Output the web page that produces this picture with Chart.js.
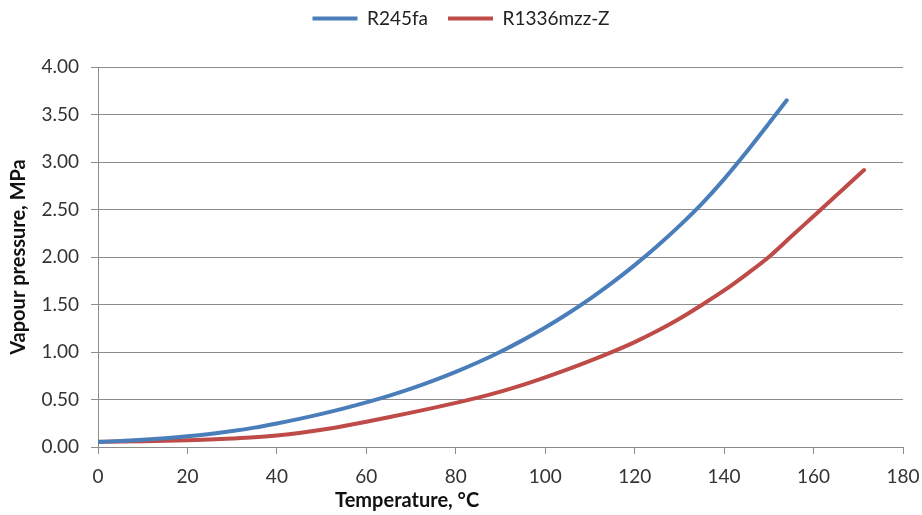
<!DOCTYPE html>
<html>
<head>
<meta charset="utf-8">
<title>Vapour pressure</title>
<script src="https://cdn.jsdelivr.net/npm/chart.js@4.4.1/dist/chart.umd.min.js"></script>
<style>
  html, body { margin: 0; padding: 0; background: #ffffff; }
  #wrap { width: 922px; height: 515px; }
</style>
</head>
<body>
<div id="wrap"><canvas id="chart" width="922" height="515"></canvas></div>
<script>
// Saturation curves, temperature in °C, pressure in MPa
const r245faTemps = [0, 5, 10, 15, 20, 25, 30, 35, 40, 45, 50, 55, 60, 65, 70, 75, 80, 85, 90, 95,
  100, 105, 110, 115, 120, 125, 130, 135, 140, 145, 150, 154];
const r245faPressure = [0.053, 0.064, 0.077, 0.093, 0.113, 0.138, 0.168, 0.204, 0.248, 0.296,
  0.349, 0.407, 0.470, 0.539, 0.615, 0.699, 0.791, 0.892, 1.003, 1.125,
  1.258, 1.403, 1.560, 1.730, 1.914, 2.113, 2.328, 2.560, 2.820, 3.105, 3.405, 3.650];

const r1336Temps = [0, 5, 10, 15, 20, 25, 30, 35, 40, 45, 50, 55, 60, 65, 70, 75, 80, 85, 90, 95,
  100, 105, 110, 115, 120, 125, 130, 135, 140, 145, 150, 155, 160, 165, 170, 171.3];
const r1336Pressure = [0.055, 0.057, 0.060, 0.065, 0.071, 0.079, 0.089, 0.102, 0.122, 0.148,
  0.182, 0.222, 0.266, 0.313, 0.362, 0.412, 0.464, 0.520, 0.583, 0.654,
  0.733, 0.817, 0.906, 1.001, 1.104, 1.220, 1.350, 1.495, 1.648, 1.818,
  2.000, 2.215, 2.430, 2.645, 2.860, 2.915];

const seriesNames = ['R245fa', 'R1336mzz-Z'];
const xTickValues = [0, 20, 40, 60, 80, 100, 120, 140, 160, 180];
const yTickValues = [0, 0.5, 1, 1.5, 2, 2.5, 3, 3.5, 4];
const xAxisTitle = 'Temperature, °C';
const yAxisTitle = 'Vapour pressure, MPa';

const toPoints = (xs, ys) => xs.map((x, i) => ({ x: x, y: ys[i] }));

const FONT = 'Lato, "Noto Sans", sans-serif';
const GRID = '#8c8c8c';
const PLOT_TOP = 67;
const LAYOUT_TOP = -11;

// Bottom axis title, set a little left of the plot centre
const xTitlePlugin = {
  id: 'xTitle',
  afterDraw(chart) {
    const { ctx, chartArea } = chart;
    ctx.save();
    ctx.font = 'bold 20px ' + FONT;
    ctx.fillStyle = '#111';
    ctx.textAlign = 'center';
    ctx.textBaseline = 'middle';
    ctx.fillText(xAxisTitle, chartArea.left + chartArea.width * 0.384, 501);
    ctx.restore();
  }
};

// Legend box reserves the whole band above the plot area
const legendBandPlugin = {
  id: 'legendBand',
  beforeLayout(chart) {
    const legend = chart.legend;
    if (!legend || legend._bandFit) return;
    const fit = legend.fit;
    legend.fit = function () {
      fit.call(this);
      this.height = PLOT_TOP - LAYOUT_TOP;
    };
    legend._bandFit = true;
  }
};

new Chart(document.getElementById('chart'), {
  type: 'line',
  data: {
    datasets: [
      {
        label: seriesNames[0],
        data: toPoints(r245faTemps, r245faPressure),
        borderColor: '#4a7ebb',
        backgroundColor: '#4a7ebb',
        borderWidth: 4,
        borderCapStyle: 'round',
        pointRadius: 0,
        cubicInterpolationMode: 'monotone',
        fill: false
      },
      {
        label: seriesNames[1],
        data: toPoints(r1336Temps, r1336Pressure),
        borderColor: '#be4b48',
        backgroundColor: '#be4b48',
        borderWidth: 4,
        borderCapStyle: 'round',
        pointRadius: 0,
        cubicInterpolationMode: 'monotone',
        fill: false
      }
    ]
  },
  options: {
    responsive: false,
    animation: false,
    layout: { padding: { top: LAYOUT_TOP, left: 0, right: 0, bottom: 0 } },
    plugins: {
      legend: {
        position: 'top',
        labels: {
          usePointStyle: true,
          pointStyle: 'line',
          pointStyleWidth: 45,
          padding: 20,
          color: '#222',
          font: { family: FONT, size: 19 }
        }
      },
      tooltip: { enabled: false }
    },
    scales: {
      x: {
        type: 'linear',
        min: xTickValues[0],
        max: xTickValues[xTickValues.length - 1],
        afterBuildTicks(scale) {
          scale.ticks = xTickValues.map(v => ({ value: v }));
        },
        afterFit(scale) {
          scale.height = 68;
          scale.paddingLeft = 0;
          scale.paddingRight = 19;
        },
        ticks: {
          color: '#333',
          padding: 11,
          maxRotation: 0,
          font: { family: FONT, size: 19 },
          callback: v => String(v)
        },
        grid: { drawOnChartArea: false, drawTicks: true, tickLength: 7, color: GRID },
        border: { color: GRID, width: 1 },
        title: { display: false }
      },
      y: {
        min: yTickValues[0],
        max: yTickValues[yTickValues.length - 1],
        afterBuildTicks(scale) {
          scale.ticks = yTickValues.map(v => ({ value: v }));
        },
        afterFit(scale) {
          scale.width = 98;
        },
        ticks: {
          color: '#333',
          padding: 12,
          font: { family: FONT, size: 19 },
          callback: v => Number(v).toFixed(2)
        },
        grid: { color: GRID, tickLength: 7, drawTicks: true },
        border: { color: GRID, width: 1 },
        title: {
          display: true,
          text: yAxisTitle,
          color: '#111',
          padding: 0,
          font: { family: FONT, size: 20, weight: 'bold', lineHeight: 1.9 }
        }
      }
    }
  },
  plugins: [legendBandPlugin, xTitlePlugin]
});
</script>
</body>
</html>
